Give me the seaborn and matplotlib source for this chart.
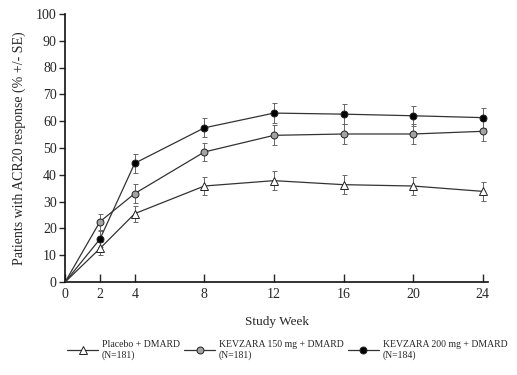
import matplotlib
matplotlib.use("Agg")
import matplotlib.pyplot as plt
import seaborn as sns
import pandas as pd

# DATA
weeks = [0, 2, 4, 8, 12, 16, 20, 24]
placebo = [0, 12.5, 25.5, 35.8, 37.8, 36.3, 35.8, 33.8]
kev150 = [0, 22.5, 33.0, 48.5, 54.7, 55.2, 55.2, 56.2]
kev200 = [0, 16.0, 44.3, 57.5, 63.0, 62.6, 62.0, 61.3]
placebo_se = [0, 2.5, 3.0, 3.5, 3.5, 3.5, 3.5, 3.5]
kev150_se = [0, 3.0, 3.5, 3.5, 3.7, 3.7, 3.7, 3.7]
kev200_se = [0, 3.0, 3.5, 3.5, 3.7, 3.7, 3.7, 3.7]
labels = ["Placebo + DMARD\n(N=181)",
          "KEVZARA 150 mg + DMARD\n(N=181)",
          "KEVZARA 200 mg + DMARD\n(N=184)"]
yticks = list(range(0, 101, 10))

sns.set_style("ticks")
plt.rcParams['font.family'] = ['Liberation Serif', 'DejaVu Serif']

fig, ax = plt.subplots(figsize=(5.17, 3.75), dpi=100)
fig.subplots_adjust(left=0.126, right=0.944, bottom=0.248, top=0.963)

series = [
    (placebo, placebo_se, '^', 'white', 5.5),
    (kev150, kev150_se, 'o', '#a3a3a3', 5),
    (kev200, kev200_se, 'o', 'black', 5),
]

for (vals, se, mk, fc, ms), lab in zip(series, labels):
    df = pd.DataFrame({'week': weeks, 'pct': vals})
    ax.errorbar(weeks[1:], vals[1:], yerr=se[1:], fmt='none', ecolor='#666666',
                elinewidth=0.7, capsize=1.8, capthick=0.7, zorder=2)
    sns.lineplot(data=df, x='week', y='pct', ax=ax, color='#333333', linewidth=0.9,
                 marker=mk, markersize=ms, markerfacecolor=fc,
                 markeredgecolor='#222222', markeredgewidth=0.7,
                 markevery=list(range(1, len(weeks))), label=lab, zorder=3)

ax.set_xlim(0, 24.3)
ax.set_ylim(0, 100)
ax.set_xticks(weeks)
ax.set_yticks(yticks)
ax.tick_params(axis='x', direction='in', length=6, width=1, labelsize=10, pad=4)
ax.tick_params(axis='y', direction='out', length=4, width=1, labelsize=10, pad=2)
for s in ['top', 'right']:
    ax.spines[s].set_visible(False)
for s in ['left', 'bottom']:
    ax.spines[s].set_linewidth(1.2)
    ax.spines[s].set_color('#111111')

ax.set_xlabel('Study Week', fontsize=9.5, labelpad=11)
ax.set_ylabel('Patients with ACR20 response (% +/- SE)', fontsize=10, labelpad=7)

ax.legend(loc='upper center', bbox_to_anchor=(0.525, -0.2), ncol=3, frameon=False,
          fontsize=7, handlelength=3.2, handletextpad=0.4, columnspacing=0.4,
          borderaxespad=0)

fig.savefig('out.png', dpi=100)
